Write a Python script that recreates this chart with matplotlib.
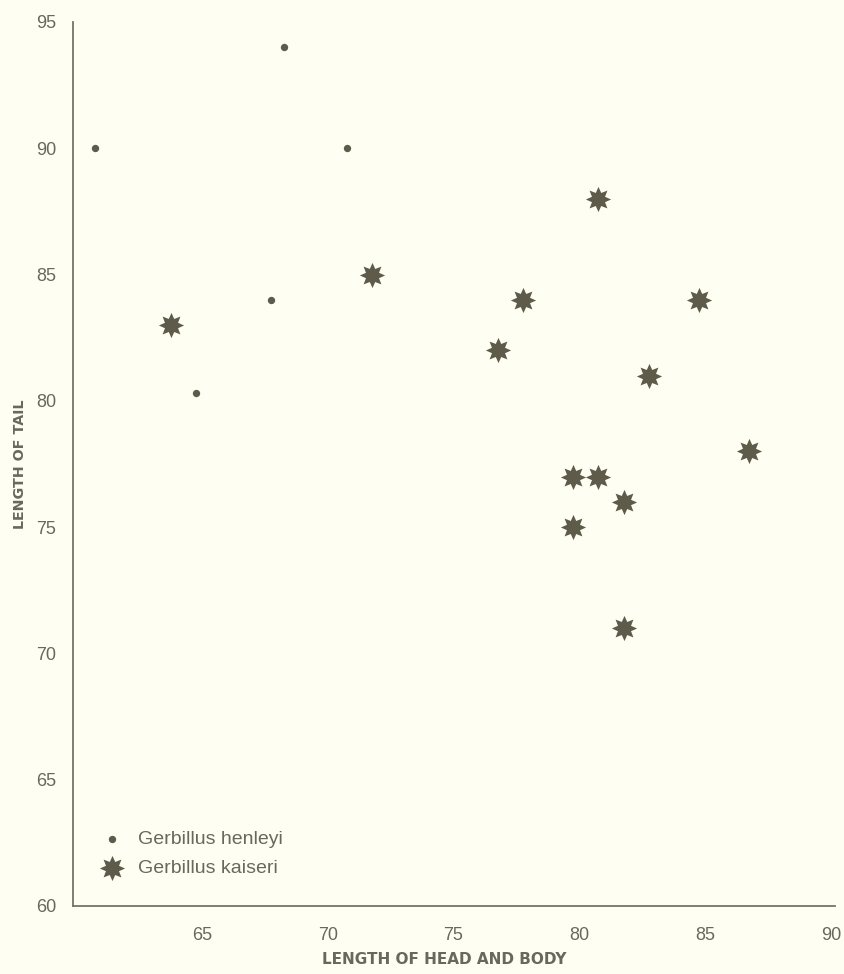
import matplotlib
matplotlib.use("Agg")
import matplotlib.pyplot as plt
import matplotlib.transforms as mtransforms
from matplotlib.path import Path
import numpy as np

# Gerbillus henleyi measurements (mm)
henleyi_body = [61, 68.5, 71, 68, 65]
henleyi_tail = [90, 94, 90, 84, 80.3]

# Gerbillus kaiseri measurements (mm)
kaiseri_body = [64, 72, 77, 78, 81, 83, 85, 80, 81, 82, 80, 87, 82]
kaiseri_tail = [83, 85, 82, 84, 88, 81, 84, 77, 77, 76, 75, 78, 71]

x_ticks = [65, 70, 75, 80, 85, 90]
y_ticks = [60, 65, 70, 75, 80, 85, 90, 95]

BG = "#fefef2"
INK = "#5e5b4a"
TEXT = "#68685c"
AXIS = "#74746a"

plt.rcParams["font.family"] = ["Liberation Sans", "DejaVu Sans"]


def star_marker(points=8, inner=0.56):
    # regular star outline, alternating outer and inner radius
    angles = np.linspace(0, 2 * np.pi, 2 * points, endpoint=False) + np.pi / 2
    radii = np.tile([1.0, inner], points)
    verts = np.column_stack([radii * np.cos(angles), radii * np.sin(angles)])
    verts = np.vstack([verts, verts[:1]])
    codes = [Path.MOVETO] + [Path.LINETO] * (len(verts) - 2) + [Path.CLOSEPOLY]
    return Path(verts, codes)


fig = plt.figure(figsize=(8.45, 9.74), dpi=100, facecolor=BG)
ax = fig.add_axes([73 / 845, 68 / 974, (835 - 73) / 845, (906 - 22) / 974])
ax.set_facecolor(BG)

star = star_marker()
ax.scatter(henleyi_body, henleyi_tail, s=28, color=INK, marker="o",
           linewidths=0, label="Gerbillus henleyi", zorder=3)
ax.scatter(kaiseri_body, kaiseri_tail, s=330, color=INK, marker=star,
           linewidths=0, label="Gerbillus kaiseri", zorder=3)

ax.set_xlim(60.12, 90.4)
ax.set_ylim(60, 95)

for side in ["top", "right"]:
    ax.spines[side].set_visible(False)
for side in ["left", "bottom"]:
    ax.spines[side].set_color(AXIS)
    ax.spines[side].set_linewidth(1.3)

ax.set_xticks(x_ticks)
ax.set_yticks(y_ticks)
ax.tick_params(axis="both", length=0, colors=TEXT, labelsize=13)
ax.tick_params(axis="x", pad=15)
ax.tick_params(axis="y", pad=12)

# printed tick numbers sit a little right of their positions
shift = mtransforms.ScaledTranslation(6 / 100, 0, fig.dpi_scale_trans)
for lbl in ax.get_xticklabels():
    lbl.set_transform(lbl.get_transform() + shift)

ax.set_xlabel("LENGTH OF HEAD AND BODY", fontsize=11, fontweight="bold",
              color=TEXT, family="DejaVu Sans", va="center")
ax.xaxis.set_label_coords(0.487, -0.061)
ax.set_ylabel("LENGTH OF TAIL", fontsize=10.3, fontweight="bold",
              color=TEXT, family="DejaVu Sans", va="center")
ax.yaxis.set_label_coords(-0.07, 0.5)

leg = ax.legend(loc="lower left", bbox_to_anchor=(0.015, 0.024), frameon=False,
                fontsize=14, handletextpad=0.35, labelspacing=0.6,
                borderaxespad=0)
for t in leg.get_texts():
    t.set_color(TEXT)

fig.savefig("out.png", dpi=100, facecolor=BG)
